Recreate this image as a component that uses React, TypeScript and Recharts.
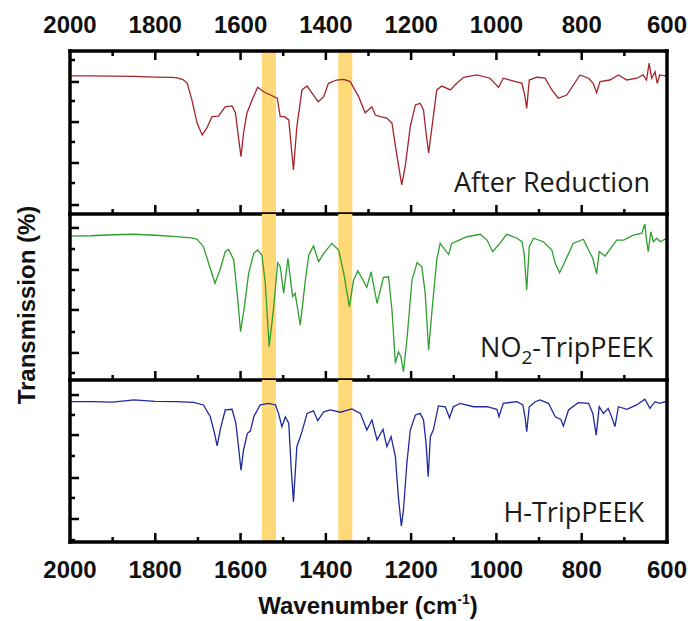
import React from 'react';
import { LineChart, Line, XAxis, YAxis, ReferenceArea, ReferenceLine } from 'recharts';

// FTIR spectra: [wavenumber (cm-1), transmission (relative %, per panel)]
const AFTER_REDUCTION: [number, number][] = [
  [2000, 84.7], [1950, 84.8], [1900, 84.6], [1850, 84.4], [1800, 84.0], [1760, 83.8],
  [1749, 83.5], [1735, 82.5], [1725, 80.2], [1714, 69.9], [1702, 55.8], [1690, 48.5],
  [1679, 52.8], [1667, 59.7], [1652, 60.1], [1636, 65.8], [1620, 66.3], [1612, 62],
  [1605, 47.2], [1599, 35.2], [1593, 49.7], [1585, 62], [1573, 69.9], [1560, 77.7],
  [1546, 75], [1530, 73], [1514, 71], [1507, 59.7], [1497, 59.7], [1487, 57.7],
  [1476, 27], [1468, 53.6], [1456, 76.1], [1444, 78.5], [1432, 74], [1418, 68.9],
  [1405, 72], [1394, 80.2], [1375, 82.2], [1358, 82.6], [1343, 81.2], [1323, 72],
  [1308, 62.1], [1292, 65.8], [1284, 60.7], [1272, 59.7], [1257, 58.9], [1245, 55.8],
  [1233, 35.2], [1222, 17.8], [1214, 29], [1202, 53.6], [1190, 66.9], [1179, 67.9],
  [1171, 63.8], [1165, 49.7], [1159, 37.4], [1151, 53.6], [1140, 76.1], [1128, 78.5],
  [1108, 76.1], [1093, 80.2], [1077, 83.9], [1046, 85.3], [1015, 83.3], [995, 77.7],
  [984, 83.3], [968, 82.2], [940, 80.2], [933, 72], [929, 64.8], [923, 82.2],
  [905, 83.9], [886, 83.3], [870, 76.1], [855, 71], [835, 73], [804, 85.3],
  [784, 83.3], [773, 80.2], [765, 74.4], [757, 81.2], [734, 82.2], [714, 85.3],
  [694, 82.2], [671, 83.3], [656, 85.3], [648, 82.2], [642, 92.5], [636, 83.3],
  [628, 87.3], [623, 80.2], [617, 85.3], [604, 84.7], [600, 84.9],
];

const NO2_TRIPPEEK: [number, number][] = [
  [2000, 86.7], [1950, 86.9], [1900, 87.5], [1850, 87.8], [1800, 87.2], [1750, 86.4],
  [1715, 85.6], [1702, 84.8], [1687, 80.3], [1675, 70.3], [1660, 58.3], [1647, 67.3],
  [1636, 77.3], [1628, 78.7], [1616, 72.3], [1608, 52.2], [1600, 29.1], [1591, 44.2],
  [1581, 64.3], [1569, 76.3], [1560, 78.3], [1550, 75.3], [1542, 58.3], [1533, 20.1],
  [1523, 42.2], [1513, 70.7], [1507, 68.3], [1499, 52.2], [1489, 73.3], [1478, 50.2],
  [1472, 52.2], [1460, 33.1], [1448, 60.2], [1440, 75.3], [1429, 80.7], [1417, 71.3],
  [1405, 76.3], [1386, 82.3], [1370, 78.3], [1358, 64.3], [1345, 44.2], [1335, 60.2],
  [1325, 65.8], [1304, 55.8], [1294, 65.2], [1280, 46.2], [1265, 61.9], [1253, 62.2],
  [1245, 42.2], [1237, 10], [1230, 17], [1224, 14], [1218, 5], [1210, 24.1],
  [1198, 60.2], [1186, 70.7], [1175, 68.3], [1167, 52.2], [1159, 18.1], [1151, 42.2],
  [1140, 72.3], [1132, 82.3], [1120, 78.3], [1112, 75.7], [1105, 82.3], [1069, 86.3],
  [1038, 87.8], [1022, 84.3], [1009, 77.3], [995, 81.3], [976, 87.8], [952, 85.4],
  [940, 83.3], [935, 76.3], [929, 54.2], [923, 80.3], [913, 85.4], [890, 83.3],
  [870, 78.3], [862, 70.3], [852, 64.6], [843, 69.3], [820, 82.3], [796, 84.8],
  [784, 78.3], [774, 73.3], [765, 63.9], [759, 77.3], [745, 74.7], [718, 84.3],
  [702, 84.3], [679, 87.3], [659, 88.4], [652, 94], [648, 84.3], [644, 77.3],
  [638, 89.3], [632, 83.3], [624, 85.4], [616, 83.3], [605, 84.8], [600, 84.5],
];

const H_TRIPPEEK: [number, number][] = [
  [2000, 86.6], [1950, 86.6], [1900, 86.4], [1850, 87.7], [1800, 86.8], [1750, 86.6],
  [1710, 86.2], [1687, 84.6], [1671, 77.3], [1661, 67.1], [1655, 59.3], [1647, 70.2],
  [1636, 81.5], [1620, 81.9], [1611, 73.3], [1604, 56.8], [1599, 44.4], [1593, 56.8],
  [1584, 67.1], [1577, 68.5], [1569, 77.3], [1554, 84.6], [1534, 85.6], [1518, 84.6],
  [1511, 79.4], [1503, 71.2], [1495, 77.3], [1487, 73.3], [1481, 44.4], [1476, 24.9],
  [1468, 58.8], [1456, 68.1], [1444, 79.4], [1429, 81], [1419, 74.9], [1405, 80.4],
  [1390, 81.5], [1366, 80.1], [1339, 82.1], [1319, 79.4], [1304, 69.1], [1292, 75.3],
  [1280, 63], [1266, 69.6], [1257, 58.8], [1247, 65], [1237, 52.7], [1230, 28],
  [1223, 9.9], [1218, 19.8], [1210, 48.6], [1202, 69.1], [1190, 78.4], [1179, 79.4],
  [1171, 75.3], [1165, 60.9], [1160, 40.3], [1155, 65], [1148, 69.1], [1136, 84],
  [1120, 83.5], [1110, 76.7], [1101, 83.5], [1085, 85.6], [1054, 83.5], [1022, 83.5],
  [999, 81.9], [994, 77.3], [984, 85.6], [952, 86.6], [938, 84.6], [933, 77.3],
  [929, 68.1], [923, 83.5], [909, 86.6], [898, 87.7], [878, 85.6], [862, 77.3],
  [849, 75.7], [843, 71.6], [831, 81.5], [808, 86], [784, 85.6], [774, 79.4],
  [766, 66], [759, 83.5], [749, 79.4], [738, 82.5], [730, 77.3], [722, 71.2],
  [714, 83.5], [694, 81.9], [671, 84.6], [652, 88.1], [640, 82.5], [628, 86.6],
  [617, 85.6], [605, 86.6], [600, 86.2],
];

// highlighted bands (cm-1)
const BANDS: [number, number][] = [[1550, 1517], [1371, 1338]];

const X_LABELS = [600, 800, 1000, 1200, 1400, 1600, 1800, 2000];
const X_MAJOR = [800, 1000, 1200, 1400, 1600, 1800];
const X_MINOR = [700, 900, 1100, 1300, 1500, 1700, 1900];

const P1_TICKS = [5.5, 19.0, 31.3, 44.2, 56.4, 69.3, 81.0, 94.5];
const P1_MAJOR = [5.5, 31.3, 56.4, 81.0];
const P2_TICKS = [4.2, 16.3, 28.9, 42.2, 54.2, 66.3, 78.9, 91.6];
const P2_MAJOR = [16.3, 42.2, 66.3, 91.6];
const P3_TICKS = [1.2, 14.2, 27.2, 39.5, 53.1, 66, 78.4, 90.7];
const P3_MAJOR = [14.2, 39.5, 66, 90.7];

const PANELS = [
  { name: 'After Reduction', data: AFTER_REDUCTION, color: '#A3252A', top: 51, bottom: 214, ticks: P1_TICKS, major: P1_MAJOR },
  { name: 'NO2-TripPEEK', data: NO2_TRIPPEEK, color: '#2E9E2E', top: 214, bottom: 380, ticks: P2_TICKS, major: P2_MAJOR },
  { name: 'H-TripPEEK', data: H_TRIPPEEK, color: '#1F2A9A', top: 380, bottom: 542, ticks: P3_TICKS, major: P3_MAJOR },
];

const W = 691;
const H = 621;
const LEFT = 70;
const RIGHT = 24;
const labelFont = '"Liberation Sans", Arial, sans-serif';

const XLabel = ({ x, payload, labelY }: any) => (
  <text x={x} y={labelY} textAnchor="middle" fontFamily={labelFont} fontWeight="bold" fontSize={24} fill="#111">
    {payload.value}
  </text>
);

const Empty = () => <g />;

const YTick = ({ x, y, payload, dir, major }: any) => {
  const len = major.includes(payload.value) ? 9 : 5;
  return <line x1={x} y1={y} x2={x + dir * len} y2={y} stroke="#000" strokeWidth={2.5} />;
};

const axisLine = { stroke: '#000', strokeWidth: 3.5, strokeLinecap: 'square' as const };

function Panel({ idx }: { idx: number }) {
  const p = PANELS[idx];
  const data = p.data.map(([wn, t]) => ({ wn, t }));
  const hasTop = idx === 0;
  const h = p.bottom - p.top;
  // vertical reference line per x tick, dashed so only the inward stubs at the panel edges show
  const dash = (len: number) => (hasTop ? `${len} ${h - 2 * len} ${len} ${2 * h}` : `${len} ${2 * h}`);
  const marks = [...X_MAJOR.map((v) => ({ v, len: 9 })), ...X_MINOR.map((v) => ({ v, len: 5 }))];
  return (
    <div style={{ position: 'absolute', left: 0, top: 0 }}>
      <LineChart
        width={W}
        height={H}
        data={data}
        margin={{ top: p.top - (hasTop ? 1 : 0), bottom: H - p.bottom - 1, left: LEFT - 1, right: RIGHT - 1 }}
      >
        <XAxis
          xAxisId="b"
          dataKey="wn"
          type="number"
          domain={[600, 2000]}
          reversed
          ticks={X_LABELS}
          interval={0}
          height={1}
          tickSize={0}
          tickMargin={0}
          tickLine={false}
          axisLine={axisLine}
          tick={idx === 2 ? (props: any) => <XLabel {...props} labelY={p.bottom + 36} /> : <Empty />}
        />
        {hasTop && (
          <XAxis
            xAxisId="t"
            orientation="top"
            dataKey="wn"
            type="number"
            domain={[600, 2000]}
            reversed
            ticks={X_LABELS}
            interval={0}
            height={1}
            tickSize={0}
            tickMargin={0}
            tickLine={false}
            axisLine={axisLine}
            tick={(props: any) => <XLabel {...props} labelY={33} />}
          />
        )}
        <YAxis
          yAxisId="l"
          type="number"
          domain={[0, 100]}
          ticks={p.ticks}
          interval={0}
          width={1}
          tickSize={0}
          tickMargin={0}
          tickLine={false}
          axisLine={axisLine}
          tick={(props: any) => <YTick {...props} dir={1} major={p.major} />}
        />
        <YAxis
          yAxisId="r"
          orientation="right"
          type="number"
          domain={[0, 100]}
          ticks={p.ticks}
          interval={0}
          width={1}
          tickSize={0}
          tickMargin={0}
          tickLine={false}
          axisLine={axisLine}
          tick={(props: any) => <YTick {...props} dir={-1} major={p.major} />}
        />
        {BANDS.map(([a, b], i) => (
          <ReferenceArea
            key={i}
            xAxisId="b"
            yAxisId="l"
            x1={a}
            x2={b}
            fill="#FFD978"
            fillOpacity={1}
            stroke="none"
          />
        ))}
        {marks.map(({ v, len }) => (
          <ReferenceLine
            key={v}
            xAxisId="b"
            yAxisId="l"
            x={v}
            stroke="#000"
            strokeWidth={2.5}
            strokeDasharray={dash(len)}
          />
        ))}
        <Line
          xAxisId="b"
          yAxisId="l"
          type="linear"
          dataKey="t"
          stroke={p.color}
          strokeWidth={1.3}
          dot={false}
          isAnimationActive={false}
        />
      </LineChart>
    </div>
  );
}

export default function App() {
  const panelText = { fontFamily: '"Open Sans", sans-serif', fontSize: 27, fill: '#1a1a1a' };
  return (
    <div style={{ position: 'absolute', left: 0, top: 0, width: W, height: H, background: '#fff' }}>
      <Panel idx={0} />
      <Panel idx={1} />
      <Panel idx={2} />
      <svg width={W} height={H} style={{ position: 'absolute', left: 0, top: 0, pointerEvents: 'none' }}>
        <text x={650} y={192} textAnchor="end" {...panelText}>After Reduction</text>
        <text x={653} y={357} textAnchor="end" {...panelText}>
          NO<tspan dy={7} fontSize={19}>2</tspan>
          <tspan dy={-7}>-TripPEEK</tspan>
        </text>
        <text x={644} y={522} textAnchor="end" {...panelText}>H-TripPEEK</text>
        <text
          transform="translate(35, 305) rotate(-90)"
          textAnchor="middle"
          fontFamily={labelFont}
          fontWeight="bold"
          fontSize={24}
          fill="#111"
        >
          Transmission (%)
        </text>
        <text x={368} y={614} textAnchor="middle" fontFamily={labelFont} fontWeight="bold" fontSize={24} fill="#111">
          Wavenumber (cm<tspan dy={-10} fontSize={14}>-1</tspan>
          <tspan dy={10}>)</tspan>
        </text>
      </svg>
    </div>
  );
}
